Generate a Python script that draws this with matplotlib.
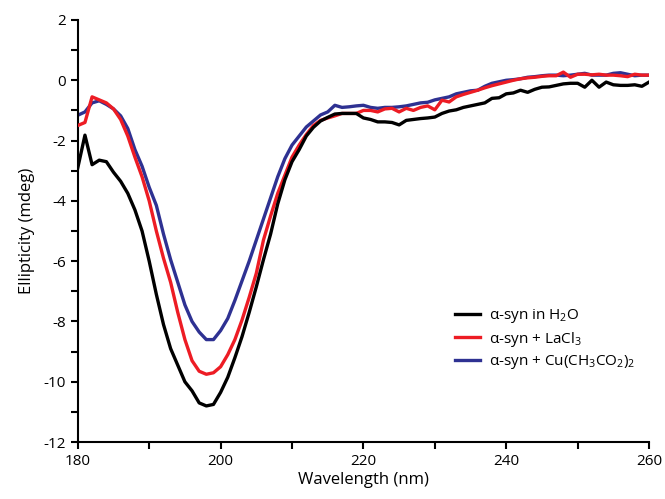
import numpy as np
import matplotlib
matplotlib.use('Agg')
import matplotlib.pyplot as plt
from matplotlib.ticker import MultipleLocator

plt.rcParams['font.family'] = ['Open Sans', 'DejaVu Sans']
plt.rcParams['mathtext.fontset'] = 'custom'
plt.rcParams['mathtext.rm'] = 'Open Sans'
plt.rcParams['mathtext.it'] = 'Open Sans'
plt.rcParams['axes.unicode_minus'] = False

wavelength = np.arange(180, 261)

# alpha-syn in water
h2o = [-2.9, -1.82, -2.8, -2.65, -2.7, -3.05, -3.35, -3.75, -4.3, -5.0,
       -6.0, -7.1, -8.1, -8.9, -9.45, -10.0, -10.3, -10.7, -10.8, -10.75,
       -10.35, -9.85, -9.2, -8.5, -7.7, -6.85, -5.95, -5.1, -4.1, -3.3,
       -2.7, -2.3, -1.85, -1.56, -1.35, -1.23, -1.12, -1.1, -1.1, -1.1,
       -1.25, -1.3, -1.38, -1.38, -1.4, -1.48, -1.33, -1.3, -1.27, -1.25,
       -1.22, -1.1, -1.02, -0.98, -0.9, -0.85, -0.8, -0.75, -0.6, -0.58,
       -0.45, -0.42, -0.33, -0.4, -0.3, -0.23, -0.22, -0.17, -0.12, -0.1,
       -0.1, -0.23, 0.0, -0.23, -0.06, -0.15, -0.17, -0.17, -0.15, -0.2,
       -0.06]

# + LaCl3
lacl3 = [-1.5, -1.4, -0.55, -0.65, -0.75, -0.95, -1.3, -1.85, -2.55, -3.2,
         -4.0, -5.0, -5.9, -6.7, -7.7, -8.6, -9.3, -9.65, -9.75, -9.7,
         -9.5, -9.1, -8.6, -7.95, -7.2, -6.4, -5.3, -4.5, -3.75, -3.15,
         -2.55, -2.15, -1.8, -1.5, -1.33, -1.25, -1.18, -1.1, -1.1, -1.1,
         -1.0, -1.0, -1.05, -0.95, -0.93, -1.05, -0.93, -1.0, -0.9, -0.85,
         -0.98, -0.66, -0.72, -0.55, -0.47, -0.4, -0.33, -0.25, -0.18, -0.12,
         -0.06, 0.0, 0.05, 0.08, 0.1, 0.13, 0.15, 0.15, 0.27, 0.1,
         0.2, 0.2, 0.18, 0.2, 0.17, 0.17, 0.15, 0.12, 0.2, 0.17,
         0.17]

# + Cu(CH3CO2)2
cuac = [-1.16, -1.05, -0.75, -0.68, -0.8, -0.95, -1.18, -1.6, -2.3, -2.85,
        -3.55, -4.15, -5.1, -5.95, -6.7, -7.45, -8.0, -8.35, -8.6, -8.6,
        -8.3, -7.9, -7.3, -6.65, -6.0, -5.3, -4.6, -3.9, -3.2, -2.6,
        -2.15, -1.85, -1.55, -1.35, -1.15, -1.05, -0.83, -0.9, -0.88, -0.85,
        -0.83, -0.9, -0.93, -0.9, -0.9, -0.88, -0.85, -0.8, -0.75, -0.73,
        -0.65, -0.6, -0.55, -0.45, -0.4, -0.35, -0.33, -0.2, -0.1, -0.05,
        0.0, 0.02, 0.05, 0.1, 0.12, 0.15, 0.17, 0.17, 0.15, 0.17,
        0.2, 0.23, 0.17, 0.17, 0.17, 0.23, 0.25, 0.2, 0.15, 0.17,
        0.17]

labels = [r'α-syn in H$_2$O', r'α-syn + LaCl$_3$', r'α-syn + Cu(CH$_3$CO$_2$)$_2$']
colors = ['#000000', '#ed1c24', '#2e3192']

fig = plt.figure(figsize=(6.65, 4.99), dpi=100)
ax = fig.add_axes([0.117, 0.114, 0.859, 0.846])

# draw blue first so red/black sit on top like the original
ax.plot(wavelength, cuac, color=colors[2], lw=2.4, label=labels[2], zorder=2)
ax.plot(wavelength, lacl3, color=colors[1], lw=2.4, label=labels[1], zorder=3)
ax.plot(wavelength, h2o, color=colors[0], lw=2.4, label=labels[0], zorder=4)

ax.set_xlim(180, 260)
ax.set_ylim(-12, 2)
ax.xaxis.set_major_locator(MultipleLocator(20))
ax.xaxis.set_minor_locator(MultipleLocator(10))
ax.yaxis.set_major_locator(MultipleLocator(2))
ax.yaxis.set_minor_locator(MultipleLocator(1))

ax.spines['top'].set_visible(False)
ax.spines['right'].set_visible(False)
ax.spines['left'].set_linewidth(1.5)
ax.spines['bottom'].set_linewidth(1.5)
ax.tick_params(which='major', length=5, width=1.5, labelsize=11)
ax.tick_params(which='minor', length=5, width=1.5)

ax.set_xlabel('Wavelength (nm)', fontsize=12, labelpad=2)
ax.set_ylabel('Ellipticity (mdeg)', fontsize=12, labelpad=6)

handles, labs = ax.get_legend_handles_labels()
order = [2, 1, 0]
ax.legend([handles[i] for i in order], [labs[i] for i in order],
          loc='lower right', bbox_to_anchor=(1.0, 0.135), frameon=False,
          fontsize=11, handlelength=1.6, handletextpad=0.6, labelspacing=0.3)

fig.savefig('out.png', dpi=100)
